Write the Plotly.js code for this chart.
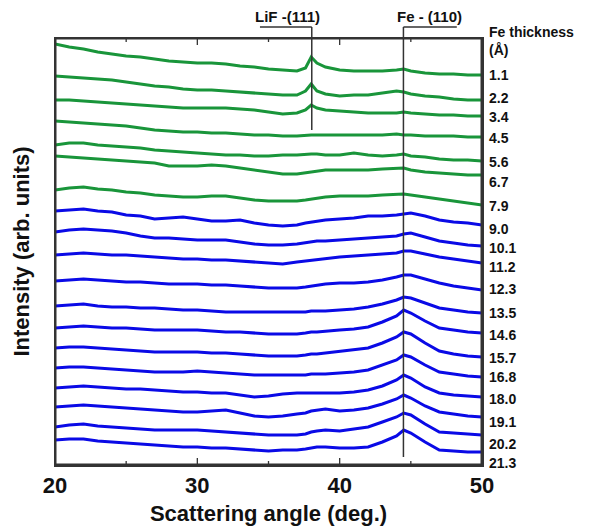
<!DOCTYPE html>
<html>
<head>
<meta charset="utf-8">
<script src="https://cdn.plot.ly/plotly-3.0.1.min.js"></script>
<style>html,body{margin:0;padding:0;background:#fff;overflow:hidden;}#chart{width:595px;height:532px;}</style>
</head>
<body>
<div id="chart"></div>
<script>
// Scattering angle grid (deg.)
const angles = [20,21,22,23,24,25,26,27,28,29,30,31,32,33,34,35,36,37,37.6,38,38.4,39,40,41,42,43,44,44.5,45,46,47,48,49,50];

// Fe thickness labels (Å)
const thickness = ['1.1','2.2','3.4','4.5','5.6','6.7','7.9','9.0','10.1','11.2','12.3','13.5','14.6','15.7','16.8','18.0','19.1','20.2','21.3'];

// Stacked intensities (arb. units)
const I_1_1  = [421,418,416,413,411,409,408,406,404,403,402,402,401,399,398,396,395,394,397,408,402,398,395,394,394,394,395,396,394,392,391,391,390,390];
const I_2_2  = [389,388,387,386,385,383,381,379,378,376,375,375,374,373,372,371,370,370,374,381,374,371,369,370,370,372,374,373,371,369,368,366,365,365];
const I_3_4  = [365,365,364,363,362,361,360,359,358,357,357,357,357,356,355,353,351,352,355,360,357,355,354,353,352,352,352,353,352,351,350,350,349,349];
const I_4_5  = [344,343,342,341,340,339,337,335,334,333,333,332,332,331,330,330,329,329,330,330,330,330,330,330,330,330,331,330,330,329,329,329,328,328];
const I_5_6  = [320,322,322,320,319,318,317,315,314,313,312,311,310,310,309,309,310,310,311,311,311,310,310,312,310,309,310,311,309,308,306,305,305,304];
const I_6_7  = [309,308,307,306,305,304,303,302,299,299,299,300,299,297,295,293,291,291,292,293,294,295,295,295,295,296,297,297,295,293,292,291,290,290];
const I_7_9  = [275,277,278,276,275,273,272,270,269,268,268,269,269,267,265,264,264,264,265,266,267,268,269,269,269,270,271,271,270,268,266,264,262,260];
const I_9_0  = [254,255,256,254,253,250,249,246,247,248,246,244,244,245,242,240,239,240,242,243,244,245,246,247,249,249,250,251,252,249,245,243,242,240];
const I_10_1 = [233,235,236,235,234,232,229,227,227,226,225,225,225,223,221,220,220,221,222,223,224,224,225,226,227,228,229,231,232,228,224,222,220,219];
const I_11_2 = [210,211,212,211,210,210,209,208,207,206,206,205,205,204,203,202,201,203,204,205,206,207,208,209,210,211,212,214,214,211,208,206,204,202];
const I_12_3 = [184,185,186,185,184,183,183,182,181,181,181,180,180,179,178,177,177,177,178,179,180,181,182,182,183,185,188,190,190,186,182,179,177,175];
const I_13_5 = [159,160,161,159,158,158,157,157,156,155,155,154,153,153,153,153,153,153,153,154,154,154,155,156,158,161,165,168,167,162,157,155,153,152];
const I_14_6 = [137,138,139,138,137,137,136,135,135,135,135,134,133,133,132,131,131,131,132,133,133,134,135,136,138,143,149,155,152,144,137,135,133,132];
const I_15_7 = [117,118,118,117,116,115,114,113,113,113,113,112,112,111,110,109,109,109,110,111,111,112,113,115,117,122,128,133,131,122,114,111,109,108];
const I_16_8 = [97,98,98,97,96,95,94,93,93,93,94,93,92,91,90,90,90,90,90,91,91,91,92,93,95,100,105,110,108,100,93,91,89,88];
const I_18_0 = [77,78,79,78,77,76,76,75,74,73,73,72,72,70,68,69,71,72,72,72,72,72,72,73,75,79,85,90,87,78,72,70,69,68];
const I_19_1 = [58,59,60,59,58,57,56,55,54,53,53,54,55,52,49,48,49,51,52,54,55,56,54,55,57,61,66,70,67,59,53,51,49,48];
const I_20_2 = [38,40,41,39,38,37,36,35,35,35,35,34,33,32,31,30,30,30,31,33,34,35,34,36,38,43,48,52,50,41,33,32,31,30];
const I_21_3 = [25,26,26,24,23,22,21,20,19,18,18,17,17,16,15,14,15,15,16,17,18,18,17,17,18,23,29,35,32,23,15,14,13,13];

// Reference peak positions (deg.)
const peakNames = ['LiF -(111)', 'Fe - (110)'];
const peakAngles = [38.04, 44.48];

// x-axis tick values (major every 10, minor every 5)
const majorTicks = [20, 30, 40, 50];
const minorTicks = [25, 35, 45];

const series = [I_1_1,I_2_2,I_3_4,I_4_5,I_5_6,I_6_7,I_7_9,I_9_0,I_10_1,I_11_2,I_12_3,I_13_5,I_14_6,I_15_7,I_16_8,I_18_0,I_19_1,I_20_2,I_21_3];

const GREEN = '#19953a', BLUE = '#0a0ae6';
const FONT = 'Liberation Sans, Arial, sans-serif';
const INK = '#111';
const AXC = '#333';
const labelShift = [0,2,-1,-1,-1,-7,-1,-4,-2,-4,1,0,-2,-1,0,-2,-5,-9,-11];
const PLOT_H = 427;
const X_RANGE = [20, 50];
const Y_RANGE = [0, PLOT_H];

const traces = series.map((s, i) => ({
  type: 'scatter', mode: 'lines', x: angles, y: s,
  line: {color: i < 7 ? GREEN : BLUE, width: 3},
  hoverinfo: 'skip', showlegend: false
}));

// Axis decoration drawn through the same scales: inward ticks on bottom and top, and the plot frame
const tickX = [], tickY = [];
majorTicks.concat(minorTicks).forEach(v => {
  const len = majorTicks.includes(v) ? 7 : 4;
  tickX.push(v, v, null, v, v, null);
  tickY.push(Y_RANGE[0], Y_RANGE[0] + len, null, Y_RANGE[1] - len, Y_RANGE[1], null);
});
traces.push({type: 'scatter', mode: 'lines', x: tickX, y: tickY, connectgaps: false,
  line: {color: AXC, width: 1.3}, hoverinfo: 'skip', showlegend: false});
traces.push({type: 'scatter', mode: 'lines',
  x: [X_RANGE[0], X_RANGE[1], X_RANGE[1], X_RANGE[0], X_RANGE[0]],
  y: [Y_RANGE[0], Y_RANGE[0], Y_RANGE[1], Y_RANGE[1], Y_RANGE[0]],
  line: {color: AXC, width: 3}, hoverinfo: 'skip', showlegend: false});

const annotations = series.map((s, i) => ({
  x: 1, xref: 'paper', xanchor: 'left', xshift: 5,
  y: s[s.length - 1], yref: 'y', yanchor: 'middle', yshift: labelShift[i],
  text: thickness[i], showarrow: false,
  font: {family: FONT, size: 14, color: INK, weight: 'bold'}
}));
annotations.push(
  {x: 1, xref: 'paper', xanchor: 'left', xshift: 5, y: 1.014, yref: 'paper', yanchor: 'middle',
   text: 'Fe thickness', showarrow: false, font: {family: FONT, size: 14, color: INK, weight: 'bold'}},
  {x: 1, xref: 'paper', xanchor: 'left', xshift: 5, y: 0.972, yref: 'paper', yanchor: 'middle',
   text: '(Å)', showarrow: false, font: {family: FONT, size: 14, color: INK, weight: 'bold'}},
  {x: 36.3, xref: 'x', y: 1.0515, yref: 'paper', yanchor: 'middle', xanchor: 'center',
   text: peakNames[0], showarrow: false, font: {family: FONT, size: 15, color: INK, weight: 'bold'}},
  {x: 46.28, xref: 'x', y: 1.0515, yref: 'paper', yanchor: 'middle', xanchor: 'center',
   text: peakNames[1], showarrow: false, font: {family: FONT, size: 15, color: INK, weight: 'bold'}}
);

const lineStyle = {color: AXC, width: 1.5};
const shapes = [
  {type: 'line', xref: 'x', yref: 'paper', x0: peakAngles[0], x1: peakAngles[0], y0: 0.7845, y1: 1.0258, line: lineStyle},
  {type: 'line', xref: 'x', yref: 'paper', x0: 34.4, x1: peakAngles[0], y0: 1.0258, y1: 1.0258, line: lineStyle},
  {type: 'line', xref: 'x', yref: 'paper', x0: peakAngles[1], x1: peakAngles[1], y0: 0.0187, y1: 1.0258, line: lineStyle},
  {type: 'line', xref: 'x', yref: 'paper', x0: peakAngles[1], x1: 48.23, y0: 1.0258, y1: 1.0258, line: lineStyle}
];

const layout = {
  width: 595, height: 532,
  margin: {l: 55, r: 113, t: 38, b: 67, autoexpand: false},
  paper_bgcolor: '#fff', plot_bgcolor: '#fff',
  xaxis: {
    range: X_RANGE, tickvals: majorTicks, ticks: '', automargin: false,
    showline: true, linecolor: AXC, linewidth: 1.5, mirror: true, showgrid: false, zeroline: false,
    tickfont: {family: FONT, size: 22, color: INK, weight: 'bold'},
    title: {text: 'Scattering angle (deg.)', font: {family: FONT, size: 22, color: INK, weight: 'bold'}, standoff: 8}
  },
  yaxis: {
    range: Y_RANGE, showticklabels: false, ticks: '', automargin: false, showline: true, linecolor: AXC, linewidth: 1.5,
    mirror: true, showgrid: false, zeroline: false,
    title: {text: 'Intensity (arb. units)', font: {family: FONT, size: 22, color: INK, weight: 'bold'}, standoff: 18}
  },
  annotations: annotations, shapes: shapes
};

Plotly.newPlot('chart', traces, layout, {staticPlot: true, displayModeBar: false});
</script>
</body>
</html>
